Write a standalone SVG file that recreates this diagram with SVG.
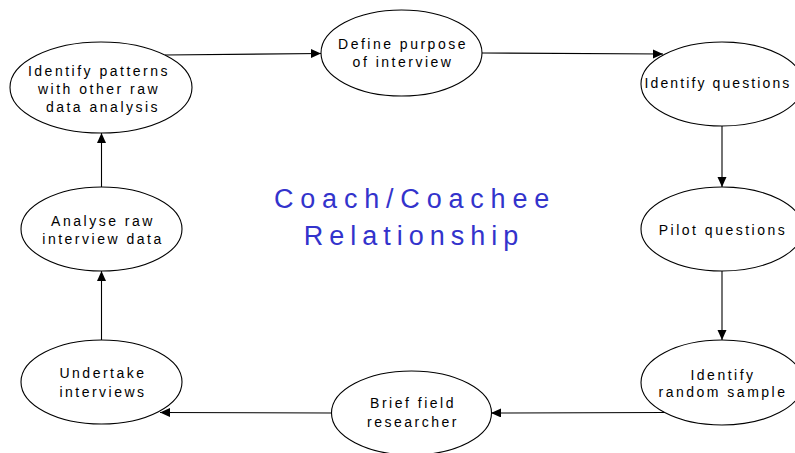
<svg xmlns="http://www.w3.org/2000/svg" width="795" height="453" viewBox="0 0 795 453">
<defs>
<marker id="arr" markerUnits="userSpaceOnUse" markerWidth="11" markerHeight="10" refX="10" refY="4.5" orient="auto">
<path d="M0,0 L10,4.5 L0,9 z" fill="#000"/>
</marker>
<style>
.node ellipse{fill:#fff;stroke:#000;stroke-width:1.1}
.node text{font-family:"Liberation Sans",Arial,sans-serif;font-size:14px;letter-spacing:2.5px;fill:#000;text-anchor:middle}
.conn line{stroke:#000;stroke-width:1.1;marker-end:url(#arr)}
.title{font-family:"Liberation Sans",Arial,sans-serif;font-size:27px;letter-spacing:6.8px;fill:#3333cc;text-anchor:middle}
</style>
</defs>
<rect width="795" height="453" fill="#fff"/>
<g id="connectors" class="conn">
<line x1="165" y1="55" x2="321" y2="53.5"/>
<line x1="482" y1="53" x2="663" y2="54"/>
<line x1="722" y1="126" x2="722" y2="187"/>
<line x1="722" y1="271" x2="722" y2="340"/>
<line x1="665" y1="412.5" x2="491" y2="413"/>
<line x1="332" y1="413" x2="160" y2="412.5"/>
<line x1="101.5" y1="340" x2="101.5" y2="271"/>
<line x1="101.5" y1="187" x2="101.5" y2="133"/>
</g>
<g id="n1" class="node">
<ellipse cx="101" cy="87.5" rx="91" ry="45.5"/>
<text x="99" y="76">Identify patterns</text>
<text x="99" y="94">with other raw</text>
<text x="103" y="112">data analysis</text>
</g>
<g id="n2" class="node">
<ellipse cx="401.5" cy="53" rx="80.5" ry="43"/>
<text x="403" y="49">Define purpose</text>
<text x="403" y="67">of interview</text>
</g>
<g id="n3" class="node">
<ellipse cx="722" cy="84" rx="81" ry="42"/>
<text x="718" y="88" style="letter-spacing:2.1px">Identify questions</text>
</g>
<g id="n4" class="node">
<ellipse cx="722" cy="229" rx="81" ry="42"/>
<text x="723" y="235">Pilot questions</text>
</g>
<g id="n5" class="node">
<ellipse cx="722" cy="382.5" rx="81" ry="42.5"/>
<text x="723" y="380">Identify</text>
<text x="723" y="397">random sample</text>
</g>
<g id="n6" class="node">
<ellipse cx="411.5" cy="413" rx="80" ry="42"/>
<text x="413" y="408">Brief field</text>
<text x="413" y="427">researcher</text>
</g>
<g id="n7" class="node">
<ellipse cx="101.5" cy="382" rx="80.5" ry="42"/>
<text x="103" y="378">Undertake</text>
<text x="103" y="397">interviews</text>
</g>
<g id="n8" class="node">
<ellipse cx="101.5" cy="229" rx="80.5" ry="42"/>
<text x="103" y="226">Analyse raw</text>
<text x="103" y="244">interview data</text>
</g>
<g id="title">
<text class="title" x="415" y="208">Coach/Coachee</text>
<text class="title" x="414" y="245" style="letter-spacing:6px">Relationship</text>
</g>
</svg>
